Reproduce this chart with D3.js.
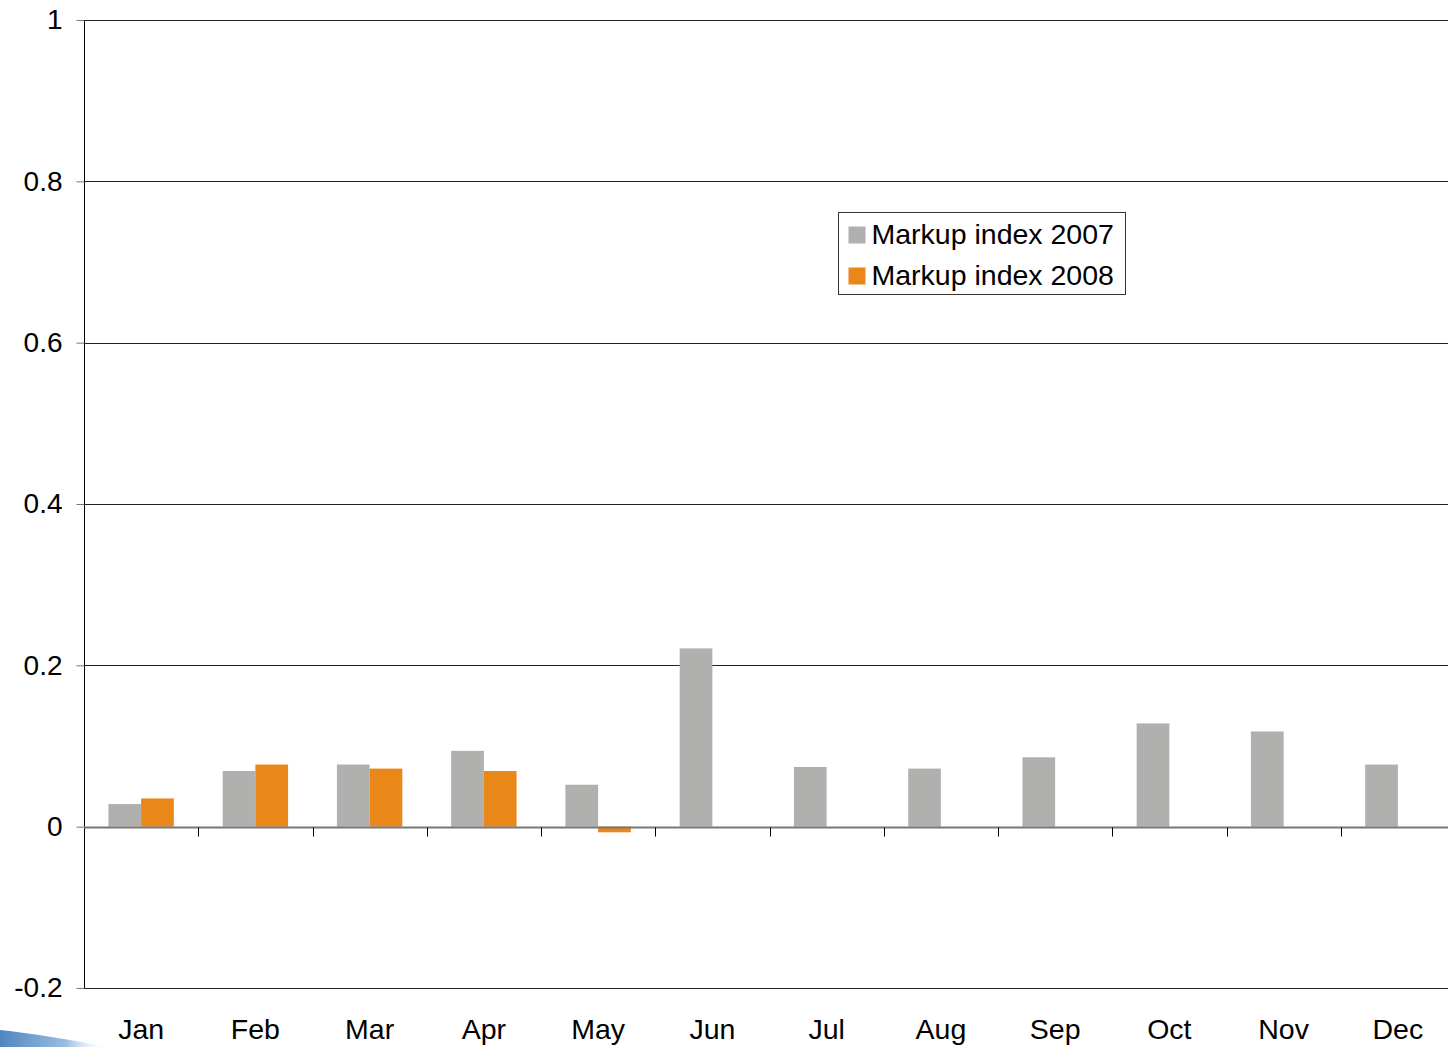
<!DOCTYPE html>
<html>
<head>
<meta charset="utf-8">
<script src="https://cdn.jsdelivr.net/npm/d3@7"></script>
<style>
  body { margin: 0; background: #fff; }
  svg { display: block; font-family: "Liberation Sans", Arial, sans-serif; }
</style>
</head>
<body>
<div id="chart"></div>
<script>
const months = ["Jan","Feb","Mar","Apr","May","Jun","Jul","Aug","Sep","Oct","Nov","Dec"];
const markup2007 = [0.028, 0.069, 0.077, 0.094, 0.052, 0.221, 0.074, 0.072, 0.086, 0.128, 0.118, 0.077];
const markup2008 = [0.035, 0.077, 0.072, 0.069, -0.007];
const seriesNames = ["Markup index 2007", "Markup index 2008"];
const seriesColors = ["#b0b0ae", "#ea8719"];
const yTicks = [-0.2, 0, 0.2, 0.4, 0.6, 0.8, 1];

const W = 1448, H = 1047;
// plot area runs a little past the right edge of the picture
const margin = { top: 20, right: -7, bottom: 59, left: 84 };

const svg = d3.select("#chart").append("svg")
    .attr("width", W).attr("height", H);

// bottom-left decorative swoosh
const defs = svg.append("defs");
const grad = defs.append("linearGradient").attr("id", "swoosh")
    .attr("x1", 0).attr("x2", 1).attr("y1", 0).attr("y2", 0);
grad.append("stop").attr("offset", 0).attr("stop-color", "#4f86c0");
grad.append("stop").attr("offset", 0.6).attr("stop-color", "#9cbde0");
grad.append("stop").attr("offset", 1).attr("stop-color", "#ffffff").attr("stop-opacity", 0);
svg.append("path")
    .attr("d", "M0,1030 C30,1033 70,1040 110,1047 L0,1047 Z")
    .attr("fill", "url(#swoosh)");

const x = d3.scaleBand()
    .domain(months)
    .range([margin.left, W - margin.right]);

const y = d3.scaleLinear()
    .domain([-0.2, 1])
    .range([H - margin.bottom, margin.top]);

// gridlines
svg.append("g")
    .selectAll("line")
    .data(yTicks.filter(d => d !== 0 && d !== -0.2))
    .join("line")
        .attr("x1", margin.left).attr("x2", W)
        .attr("y1", d => Math.round(y(d)) + 0.5).attr("y2", d => Math.round(y(d)) + 0.5)
        .attr("stroke", "#222").attr("stroke-width", 1);

// bottom border line at -0.2
svg.append("line")
    .attr("x1", margin.left).attr("x2", W)
    .attr("y1", Math.round(y(-0.2)) + 0.5).attr("y2", Math.round(y(-0.2)) + 0.5)
    .attr("stroke", "#222");

// y axis
const yAxis = svg.append("g")
    .attr("transform", `translate(${margin.left + 0.5},0)`)
    .call(d3.axisLeft(y).tickValues(yTicks).tickSize(8).tickPadding(14)
        .tickFormat(d => String(+d.toFixed(1))));
yAxis.select(".domain").attr("stroke", "#000").attr("d", `M0,${y(1)}V${y(-0.2)}`);
yAxis.selectAll(".tick line").attr("stroke", "#777");
yAxis.selectAll(".tick text")
    .attr("font-size", 28).attr("fill", "#000")
    .attr("font-family", "Liberation Sans, Arial, sans-serif");

// bars
const barW = 32.7;
const series = [markup2007, markup2008];
series.forEach((vals, si) => {
    svg.append("g")
        .selectAll("rect")
        .data(vals.map((v, i) => ({ m: months[i], v })))
        .join("rect")
            .attr("x", d => x(d.m) + x.bandwidth() / 2 - barW + si * barW)
            .attr("width", barW)
            .attr("y", d => y(Math.max(0, d.v)))
            .attr("height", d => Math.abs(y(d.v) - y(0)))
            .attr("fill", seriesColors[si]);
});

// zero line with category ticks
const zeroY = Math.round(y(0)) + 0.5;
svg.append("line")
    .attr("x1", margin.left).attr("x2", W)
    .attr("y1", zeroY).attr("y2", zeroY)
    .attr("stroke", "#777").attr("stroke-width", 2);
svg.append("g")
    .selectAll("line")
    .data(months.slice(1))
    .join("line")
        .attr("x1", d => Math.round(x(d)) + 0.5).attr("x2", d => Math.round(x(d)) + 0.5)
        .attr("y1", zeroY).attr("y2", zeroY + 9)
        .attr("stroke", "#000");

// month labels
svg.append("g")
    .selectAll("text")
    .data(months)
    .join("text")
        .attr("x", d => x(d) + x.bandwidth() / 2)
        .attr("y", 1039)
        .attr("text-anchor", "middle")
        .attr("font-size", 28.5)
        .text(d => d);

// legend
const legend = svg.append("g").attr("transform", "translate(838.5,212.5)");
legend.append("rect")
    .attr("width", 287).attr("height", 82)
    .attr("fill", "#fff").attr("stroke", "#333");
seriesNames.forEach((name, i) => {
    legend.append("rect")
        .attr("x", 10).attr("y", 14 + i * 41)
        .attr("width", 17).attr("height", 17)
        .attr("fill", seriesColors[i]);
    legend.append("text")
        .attr("x", 33).attr("y", 31 + i * 41)
        .attr("font-size", 28.5)
        .text(name);
});
</script>
</body>
</html>
